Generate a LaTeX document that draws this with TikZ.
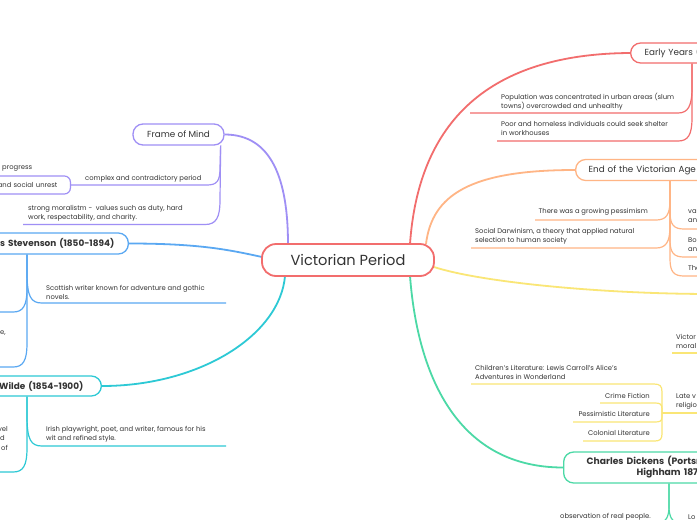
\documentclass[tikz,border=0pt]{standalone}
\usepackage{fontspec}
\setmainfont{Poppins}
\usetikzlibrary{calc}
\definecolor{cred}{HTML}{F26D6D}
\definecolor{corange}{HTML}{FFB585}
\definecolor{cyellow}{HTML}{FAE676}
\definecolor{cgreen}{HTML}{4CD9A6}
\definecolor{cpurple}{HTML}{9F8FF5}
\definecolor{cblue}{HTML}{5AA8F2}
\definecolor{ccyan}{HTML}{2DC9D5}
\definecolor{txt}{HTML}{333333}
\begin{document}
\begin{tikzpicture}[x=1pt,y=-1pt,
  box/.style={draw, fill=white, rounded corners=10pt, line width=1.3pt, text=txt, inner sep=0pt},
  ttl/.style={font=\fontsize{8.8}{10}\selectfont},
  bld/.style={font=\fontsize{8.9}{11}\selectfont\bfseries},
  sm/.style={font=\fontsize{6.8}{9}\selectfont, text=txt, inner sep=0pt, align=left, anchor=west},
  sme/.style={sm, anchor=east, align=right},
  con/.style={line width=1.2pt},
  mainc/.style={line width=1.8pt}]
\useasboundingbox (0,0) rectangle (697,520);
\clip (0,0) rectangle (697,520);
\fill[white] (0,0) rectangle (697,520);

% nodes
\node[box, draw=cred, anchor=west, minimum height=20pt, text width=80pt, align=left, inner xsep=14pt, ttl] (early) at (630,53) {Early Years (};
\node[box, draw=corange, anchor=west, minimum height=21pt, text width=140pt, align=left, inner xsep=13pt, ttl] (endv) at (575,170) {End of the Victorian Age};
\node[box, draw=cgreen, anchor=west, minimum height=31pt, text width=140pt, align=left, inner xsep=23pt, font=\fontsize{9.2}{11}\selectfont\bfseries] (dick) at (563,467.5) {Charles Dickens (Portsm\\\hspace*{50pt}Highham 187};
\node[box, draw=cpurple, minimum width=91pt, minimum height=21pt, ttl] (frame) at (178.5,134.5) {Frame of Mind};
\node[box, draw=cblue, anchor=east, minimum height=21pt, text width=150pt, align=right, inner xsep=14pt, bld] (stev) at (129,243.5) {s Stevenson (1850-1894)};
\node[box, draw=ccyan, anchor=east, minimum height=20pt, text width=150pt, align=right, inner xsep=18pt, bld] (wilde) at (102,386) {Wilde (1854-1900)};
\node[box, draw=cpurple, line width=1.2pt, rounded corners=6pt, anchor=east, minimum height=18pt, text width=100pt, align=right, inner xsep=13pt, font=\fontsize{6.8}{9}\selectfont] (unrest) at (71,185) {and social unrest};
\coordinate (yel) at (712,294);
\coordinate (lv) at (662,413);
\coordinate (vpc) at (348,260);

% main connectors
\draw[mainc,cred] ($(vpc)+(62,-16)$) .. controls (418,130) and (480,54) .. (early.west);
\draw[mainc,corange] ($(vpc)+(78,-16)$) .. controls (432,195) and (470,170) .. (endv.west);
\draw[mainc,cyellow] ($(vpc)+(86,7)$) .. controls (480,282) and (600,294) .. (yel);
\draw[mainc,cgreen] ($(vpc)+(62,16)$) .. controls (418,380) and (460,467.5) .. (dick.west);
\draw[mainc,cpurple] ($(vpc)+(-60,-16)$) .. controls (288,180) and (272,134.5) .. (frame.east);
\draw[mainc,cblue] ($(vpc)+(-86,-3)$) .. controls (230,250) and (200,243.5) .. (stev.east);
\draw[mainc,ccyan] ($(vpc)+(-63,16)$) .. controls (280,335) and (200,386) .. (wilde.east);
\node[box, draw=cred, line width=1.8pt, rounded corners=14pt, minimum width=172pt, minimum height=32pt, font=\fontsize{14.6}{16}\selectfont] (vp) at (vpc) {Victorian Period};

% Frame of Mind children
\draw[con,cpurple] ($(frame.south east)+(-4,0)$) -- (220,168) .. controls (220,181) and (217,185) .. (207,185) -- (unrest.east);
\draw[con,cpurple] ($(frame.south east)+(-4,0)$) -- (220,200) .. controls (220,218) and (216,224.5) .. (205,224.5) -- (23,224.5);
\node[sm] (t1) at (85,179) {complex and contradictory period};
\node[sm] (t2) at (28,213.5) {strong moralistm -\ \ values such as duty, hard\\work, respectability, and charity.};
\node[sm] (prog) at (2,169) {progress};

% Stevenson children
\draw[con,cblue] ($(stev.south east)+(-102,0)$) -- (27,272) .. controls (27,297) and (31,303) .. (42,303) -- (226,303);
\draw[con,cblue] ($(stev.south east)+(-102,0)$) -- (27,288) .. controls (27,306) and (23,312) .. (13,312) -- (-5,312);
\draw[con,cblue] ($(stev.south east)+(-102,0)$) -- (27,343) .. controls (27,361) and (23,367) .. (13,367) -- (-5,367);
\node[sm] (t3) at (46,292) {Scottish writer known for adventure and gothic\\novels.};
\node[sme] (t20) at (6,333) {e,};

% Wilde children
\draw[con,ccyan] ($(wilde.south east)+(-75,0)$) -- (27,416) .. controls (27,440) and (31,446) .. (42,446) -- (226,446);
\draw[con,ccyan] ($(wilde.south east)+(-75,0)$) -- (27,448) .. controls (27,466) and (23,472) .. (13,472) -- (-5,472);
\node[sm] (t4) at (46,434.5) {Irish playwright, poet, and writer, famous for his\\wit and refined style.};
\node[sme] (t21) at (8,429) {vel};
\node[sme] (t22) at (5,438) {d};
\node[sme] (t23) at (8,448) {of};

% Early Years children
\draw[con,cred] ($(early.south west)+(62,0)$) -- (692,88) .. controls (692,106) and (688,113) .. (678,113) -- (470,113);
\draw[con,cred] ($(early.south west)+(62,0)$) -- (692,118) .. controls (692,135) and (688,141) .. (678,141) -- (497,141);
\node[sm] (t5) at (501,101.5) {Population was concentrated in urban areas (slum\\towns) overcrowded and unhealthy};
\node[sm] (t6) at (501,128.5) {Poor and homeless individuals could seek shelter\\in workhouses};

% End of the Victorian Age children
\draw[con,corange] ($(endv.south west)+(95,0)$) -- (670,200) .. controls (670,215) and (666,220) .. (656,220) -- (535,220);
\draw[con,corange] ($(endv.south west)+(95,0)$) -- (670,226) .. controls (670,242) and (666,248) .. (656,248) -- (471,248);
\draw[con,corange] ($(endv.south west)+(95,0)$) -- (670,212) .. controls (670,225) and (674,229) .. (684,229) -- (700,229);
\draw[con,corange] ($(endv.south west)+(95,0)$) -- (670,240) .. controls (670,253) and (674,257) .. (684,257) -- (700,257);
\draw[con,corange] ($(endv.south west)+(95,0)$) -- (670,259) .. controls (670,272) and (674,276) .. (684,276) -- (700,276);
\node[sme] (t7) at (648,212) {There was a growing pessimism};
\node[sm] (t8) at (475,236.5) {Social Darwinism, a theory that applied natural\\selection to human society};
\node[sm] (t9) at (688,216.5) {va\\an};
\node[sm] (t10) at (688,245) {Bo\\an};
\node[sm] (t11) at (688,268) {The};

% yellow branch children
\node[sm] (t12) at (676,341.5) {Victor\\moral};
\draw[con,cyellow] (672,353) -- (700,353);
\node[sm] (t17) at (676,401.5) {Late v\\religio};
\draw[con,cyellow] (lv) -- (700,413);
\draw[con,cyellow] (lv) -- (662,392) .. controls (662,386) and (660,384) .. (654,384) -- (471,384);
\draw[con,cyellow] (lv) -- (662,409) .. controls (662,404) and (660,403) .. (655,403) -- (600,403);
\draw[con,cyellow] (lv) -- (662,417) .. controls (662,421) and (660,422) .. (655,422) -- (573,422);
\draw[con,cyellow] (lv) -- (662,434) .. controls (662,439) and (660,441) .. (655,441) -- (583,441);
\node[sm] (t13) at (475,372.5) {Children’s Literature: Lewis Carroll’s Alice’s\\Adventures in Wonderland};
\node[sme] (t14) at (650,396) {Crime Fiction};
\node[sme] (t15) at (650,414) {Pessimistic Literature};
\node[sme] (t16) at (650,433) {Colonial Literature};

% Dickens children
\draw[con,cgreen] ($(dick.south west)+(106,0)$) -- (669,506) .. controls (669,517) and (666,522) .. (658,525);
\draw[con,cgreen] ($(dick.south west)+(106,0)$) -- (669,506) .. controls (669,517) and (672,522) .. (680,525);
\node[sme] (t18) at (651,517) {observation of real people.};
\node[sm] (t19) at (688,517) {Lo};
\end{tikzpicture}
\end{document}
